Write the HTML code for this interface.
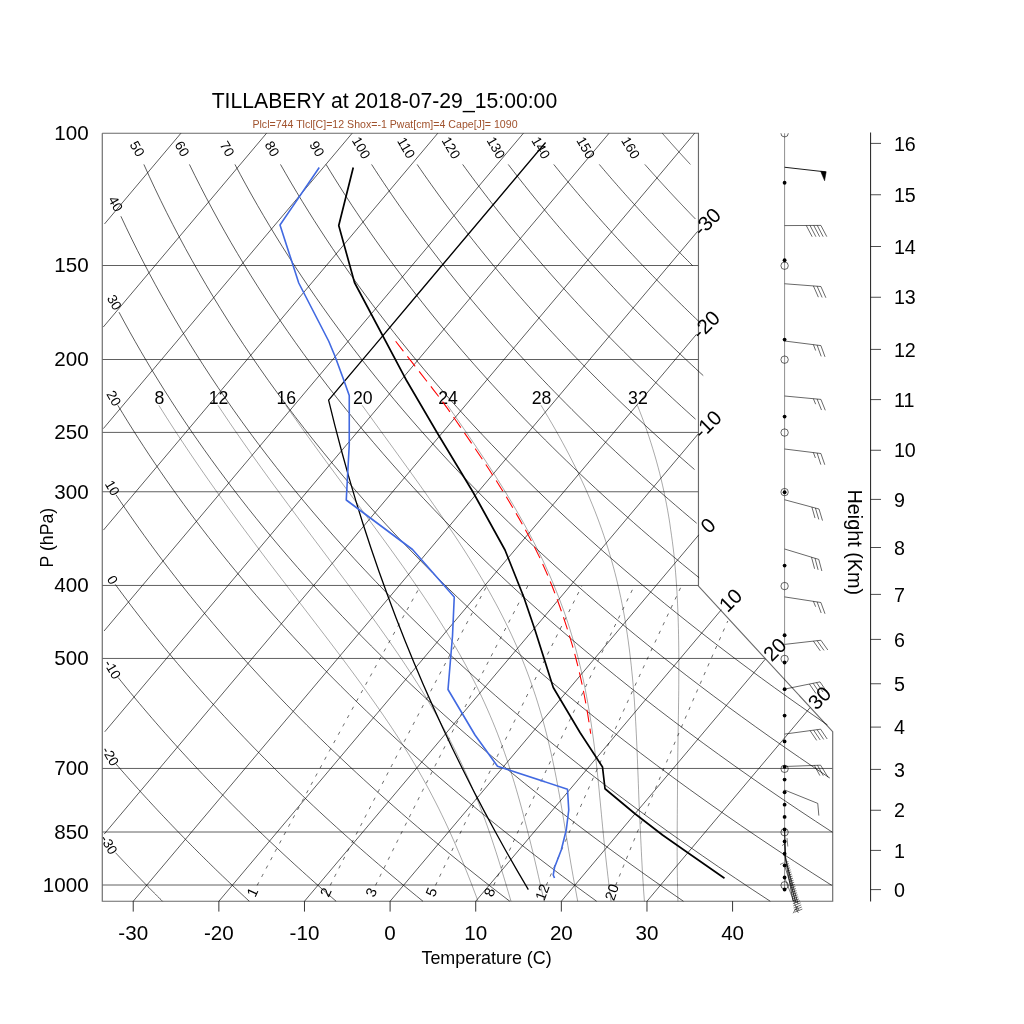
<!DOCTYPE html>
<html><head><meta charset="utf-8"><title>Skew-T</title>
<style>html,body{margin:0;padding:0;background:#fff}svg{display:block}text{font-family:"Liberation Sans",sans-serif}</style>
</head><body>
<svg width="1024" height="1024" viewBox="0 0 1024 1024">
<rect width="1024" height="1024" fill="#fff"/>
<g opacity="0.999">
<path d="M102.28 133.28 L102.28 901.25 L832.70 901.25 L832.70 731.69 L698.46 586.10 L698.46 133.28 L102.28 133.28" fill="none" stroke="#6a6a6a" stroke-width="1.15" />
<path d="M102.28 885.00 L832.70 885.00" fill="none" stroke="#606060" stroke-width="1.0" />
<text x="88.70" y="884.30" font-size="20.6" text-anchor="end" dominant-baseline="central" fill="#000" >1000</text>
<path d="M102.28 832.00 L832.70 832.00" fill="none" stroke="#606060" stroke-width="1.0" />
<text x="88.70" y="831.30" font-size="20.6" text-anchor="end" dominant-baseline="central" fill="#000" >850</text>
<path d="M102.28 768.45 L832.70 768.45" fill="none" stroke="#606060" stroke-width="1.0" />
<text x="88.70" y="767.75" font-size="20.6" text-anchor="end" dominant-baseline="central" fill="#000" >700</text>
<path d="M102.28 658.45 L765.53 658.45" fill="none" stroke="#606060" stroke-width="1.0" />
<text x="88.70" y="657.75" font-size="20.6" text-anchor="end" dominant-baseline="central" fill="#000" >500</text>
<path d="M102.28 585.45 L698.46 585.45" fill="none" stroke="#606060" stroke-width="1.0" />
<text x="88.70" y="584.75" font-size="20.6" text-anchor="end" dominant-baseline="central" fill="#000" >400</text>
<path d="M102.28 491.75 L698.46 491.75" fill="none" stroke="#606060" stroke-width="1.0" />
<text x="88.70" y="491.05" font-size="20.6" text-anchor="end" dominant-baseline="central" fill="#000" >300</text>
<path d="M102.28 432.40 L698.46 432.40" fill="none" stroke="#606060" stroke-width="1.0" />
<text x="88.70" y="431.70" font-size="20.6" text-anchor="end" dominant-baseline="central" fill="#000" >250</text>
<path d="M102.28 359.50 L698.46 359.50" fill="none" stroke="#606060" stroke-width="1.0" />
<text x="88.70" y="358.80" font-size="20.6" text-anchor="end" dominant-baseline="central" fill="#000" >200</text>
<path d="M102.28 265.50 L698.46 265.50" fill="none" stroke="#606060" stroke-width="1.0" />
<text x="88.70" y="264.80" font-size="20.6" text-anchor="end" dominant-baseline="central" fill="#000" >150</text>
<text x="88.70" y="132.58" font-size="20.6" text-anchor="end" dominant-baseline="central" fill="#000" >100</text>
<path d="M104.51 223.96 L180.90 133.28" fill="none" stroke="#000" stroke-width="0.65" />
<path d="M103.26 327.07 L266.53 133.28" fill="none" stroke="#000" stroke-width="0.65" />
<path d="M103.34 428.61 L352.15 133.28" fill="none" stroke="#000" stroke-width="0.65" />
<path d="M103.46 530.08 L437.77 133.28" fill="none" stroke="#000" stroke-width="0.65" />
<path d="M104.07 630.99 L523.39 133.28" fill="none" stroke="#000" stroke-width="0.65" />
<path d="M104.74 731.81 L609.02 133.28" fill="none" stroke="#000" stroke-width="0.65" />
<path d="M104.14 834.15 L694.64 133.28" fill="none" stroke="#000" stroke-width="0.65" />
<path d="M133.23 901.25 L697.68 231.30" fill="none" stroke="#000" stroke-width="0.65" />
<text x="706.58" y="221.50" font-size="20.5" text-anchor="middle" dominant-baseline="central" fill="#000" transform="rotate(-45.0 706.58 221.50)" >-30</text>
<path d="M218.86 901.25 L696.60 334.21" fill="none" stroke="#000" stroke-width="0.65" />
<text x="705.50" y="324.41" font-size="20.5" text-anchor="middle" dominant-baseline="central" fill="#000" transform="rotate(-45.0 705.50 324.41)" >-20</text>
<path d="M304.48 901.25 L698.27 433.85" fill="none" stroke="#000" stroke-width="0.65" />
<text x="707.17" y="424.05" font-size="20.5" text-anchor="middle" dominant-baseline="central" fill="#000" transform="rotate(-45.0 707.17 424.05)" >-10</text>
<path d="M390.10 901.25 L698.77 534.89" fill="none" stroke="#000" stroke-width="0.65" />
<text x="707.67" y="525.09" font-size="20.5" text-anchor="middle" dominant-baseline="central" fill="#000" transform="rotate(-45.0 707.67 525.09)" >0</text>
<path d="M475.72 901.25 L721.38 609.67" fill="none" stroke="#000" stroke-width="0.65" />
<text x="730.28" y="599.87" font-size="20.5" text-anchor="middle" dominant-baseline="central" fill="#000" transform="rotate(-45.0 730.28 599.87)" >10</text>
<path d="M561.34 901.25 L765.50 658.93" fill="none" stroke="#000" stroke-width="0.65" />
<text x="774.40" y="649.13" font-size="20.5" text-anchor="middle" dominant-baseline="central" fill="#000" transform="rotate(-45.0 774.40 649.13)" >20</text>
<path d="M646.97 901.25 L810.29 707.41" fill="none" stroke="#000" stroke-width="0.65" />
<text x="819.19" y="697.61" font-size="20.5" text-anchor="middle" dominant-baseline="central" fill="#000" transform="rotate(-45.0 819.19 697.61)" >30</text>
<path d="M115.61 852.80 L116.36 853.61 L117.11 854.42 L117.87 855.22 L118.62 856.03 L119.37 856.84 L120.13 857.65 L120.89 858.45 L121.65 859.26 L122.41 860.07 L123.17 860.88 L123.93 861.68 L124.69 862.49 L125.45 863.30 L126.22 864.11 L126.98 864.91 L127.75 865.72 L128.51 866.53 L129.28 867.34 L130.05 868.14 L130.82 868.95 L131.59 869.76 L132.37 870.57 L133.14 871.37 L133.91 872.18 L134.69 872.99 L135.47 873.80 L136.24 874.60 L137.02 875.41 L137.80 876.22 L138.58 877.03 L139.37 877.83 L140.15 878.64 L140.93 879.45 L141.72 880.26 L142.50 881.06 L143.29 881.87 L144.08 882.68 L144.87 883.49 L145.66 884.29 L146.45 885.10 L147.24 885.91 L148.03 886.72 L148.83 887.52 L149.62 888.33 L150.42 889.14 L151.22 889.95 L152.01 890.75 L152.81 891.56 L153.61 892.37 L154.41 893.18 L155.22 893.98 L156.02 894.79 L156.83 895.60 L157.63 896.41 L158.44 897.21 L159.25 898.02 L160.05 898.83 L160.86 899.64 L161.68 900.44 L162.49 901.25" fill="none" stroke="#000" stroke-width="0.65" />
<text x="108.70" y="844.90" font-size="13.7" text-anchor="middle" dominant-baseline="central" fill="#000" transform="rotate(60.0 108.70 844.90)" >-30</text>
<path d="M116.12 764.10 L118.10 766.39 L120.09 768.67 L122.08 770.96 L124.09 773.24 L126.10 775.53 L128.12 777.82 L130.14 780.10 L132.18 782.39 L134.22 784.67 L136.27 786.96 L138.33 789.24 L140.40 791.53 L142.47 793.82 L144.56 796.10 L146.65 798.39 L148.75 800.67 L150.85 802.96 L152.97 805.25 L155.09 807.53 L157.22 809.82 L159.36 812.10 L161.51 814.39 L163.66 816.67 L165.83 818.96 L168.00 821.25 L170.18 823.53 L172.37 825.82 L174.57 828.10 L176.77 830.39 L178.98 832.68 L181.21 834.96 L183.44 837.25 L185.67 839.53 L187.92 841.82 L190.17 844.11 L192.44 846.39 L194.71 848.68 L196.99 850.96 L199.28 853.25 L201.58 855.53 L203.88 857.82 L206.19 860.11 L208.52 862.39 L210.85 864.68 L213.19 866.96 L215.53 869.25 L217.89 871.54 L220.26 873.82 L222.63 876.11 L225.01 878.39 L227.40 880.68 L229.80 882.97 L232.21 885.25 L234.63 887.54 L237.05 889.82 L239.49 892.11 L241.93 894.39 L244.38 896.68 L246.84 898.97 L249.31 901.25" fill="none" stroke="#000" stroke-width="0.65" />
<text x="110.20" y="756.40" font-size="13.7" text-anchor="middle" dominant-baseline="central" fill="#000" transform="rotate(60.0 110.20 756.40)" >-20</text>
<path d="M118.11 677.50 L121.11 681.23 L124.13 684.96 L127.17 688.69 L130.23 692.42 L133.32 696.15 L136.42 699.88 L139.54 703.60 L142.69 707.33 L145.85 711.06 L149.04 714.79 L152.24 718.52 L155.47 722.25 L158.72 725.98 L161.98 729.71 L165.27 733.44 L168.58 737.17 L171.91 740.90 L175.27 744.63 L178.64 748.35 L182.04 752.08 L185.45 755.81 L188.89 759.54 L192.35 763.27 L195.83 767.00 L199.33 770.73 L202.86 774.46 L206.40 778.19 L209.97 781.92 L213.56 785.65 L217.17 789.38 L220.81 793.11 L224.46 796.83 L228.14 800.56 L231.84 804.29 L235.57 808.02 L239.31 811.75 L243.08 815.48 L246.87 819.21 L250.68 822.94 L254.52 826.67 L258.38 830.40 L262.26 834.13 L266.17 837.86 L270.09 841.58 L274.05 845.31 L278.02 849.04 L282.02 852.77 L286.04 856.50 L290.08 860.23 L294.15 863.96 L298.24 867.69 L302.36 871.42 L306.50 875.15 L310.66 878.88 L314.84 882.61 L319.06 886.34 L323.29 890.06 L327.55 893.79 L331.83 897.52 L336.14 901.25" fill="none" stroke="#000" stroke-width="0.65" />
<text x="112.30" y="669.50" font-size="13.7" text-anchor="middle" dominant-baseline="central" fill="#000" transform="rotate(60.0 112.30 669.50)" >-10</text>
<path d="M115.28 584.40 L119.16 589.68 L123.08 594.96 L127.04 600.24 L131.03 605.52 L135.07 610.80 L139.15 616.09 L143.26 621.37 L147.41 626.65 L151.61 631.93 L155.84 637.21 L160.12 642.49 L164.43 647.77 L168.79 653.05 L173.18 658.33 L177.62 663.61 L182.10 668.89 L186.62 674.17 L191.18 679.46 L195.78 684.74 L200.43 690.02 L205.11 695.30 L209.84 700.58 L214.61 705.86 L219.43 711.14 L224.29 716.42 L229.19 721.70 L234.13 726.98 L239.12 732.26 L244.15 737.55 L249.23 742.83 L254.34 748.11 L259.51 753.39 L264.72 758.67 L269.97 763.95 L275.27 769.23 L280.61 774.51 L286.00 779.79 L291.43 785.07 L296.91 790.35 L302.44 795.63 L308.01 800.92 L313.63 806.20 L319.30 811.48 L325.01 816.76 L330.77 822.04 L336.58 827.32 L342.43 832.60 L348.33 837.88 L354.28 843.16 L360.28 848.44 L366.33 853.72 L372.42 859.01 L378.57 864.29 L384.76 869.57 L391.00 874.85 L397.30 880.13 L403.64 885.41 L410.03 890.69 L416.47 895.97 L422.96 901.25" fill="none" stroke="#000" stroke-width="0.65" />
<text x="112.40" y="580.00" font-size="13.7" text-anchor="middle" dominant-baseline="central" fill="#000" transform="rotate(60.0 112.40 580.00)" >0</text>
<path d="M116.12 495.00 L120.66 501.77 L125.26 508.54 L129.92 515.31 L134.65 522.08 L139.43 528.85 L144.28 535.63 L149.19 542.40 L154.16 549.17 L159.20 555.94 L164.30 562.71 L169.46 569.48 L174.69 576.25 L179.98 583.02 L185.34 589.79 L190.77 596.56 L196.26 603.33 L201.82 610.10 L207.44 616.88 L213.14 623.65 L218.90 630.42 L224.73 637.19 L230.62 643.96 L236.59 650.73 L242.62 657.50 L248.73 664.27 L254.90 671.04 L261.15 677.81 L267.47 684.58 L273.86 691.36 L280.32 698.13 L286.85 704.90 L293.46 711.67 L300.13 718.44 L306.89 725.21 L313.71 731.98 L320.61 738.75 L327.59 745.52 L334.64 752.29 L341.77 759.06 L348.97 765.83 L356.25 772.61 L363.61 779.38 L371.05 786.15 L378.56 792.92 L386.15 799.69 L393.82 806.46 L401.57 813.23 L409.40 820.00 L417.32 826.77 L425.31 833.54 L433.38 840.31 L441.54 847.09 L449.77 853.86 L458.10 860.63 L466.50 867.40 L474.99 874.17 L483.56 880.94 L492.22 887.71 L500.96 894.48 L509.79 901.25" fill="none" stroke="#000" stroke-width="0.65" />
<text x="112.20" y="488.10" font-size="13.7" text-anchor="middle" dominant-baseline="central" fill="#000" transform="rotate(60.0 112.20 488.10)" >10</text>
<path d="M117.81 405.30 L122.83 413.57 L127.92 421.83 L133.11 430.10 L138.39 438.36 L143.75 446.63 L149.20 454.90 L154.75 463.16 L160.38 471.43 L166.11 479.69 L171.93 487.96 L177.84 496.22 L183.85 504.49 L189.94 512.76 L196.14 521.02 L202.43 529.29 L208.81 537.55 L215.30 545.82 L221.88 554.09 L228.56 562.35 L235.33 570.62 L242.21 578.88 L249.19 587.15 L256.27 595.41 L263.45 603.68 L270.74 611.95 L278.13 620.21 L285.62 628.48 L293.22 636.74 L300.92 645.01 L308.73 653.28 L316.65 661.54 L324.67 669.81 L332.80 678.07 L341.05 686.34 L349.40 694.61 L357.87 702.87 L366.45 711.14 L375.14 719.40 L383.94 727.67 L392.86 735.93 L401.89 744.20 L411.04 752.47 L420.31 760.73 L429.70 769.00 L439.20 777.26 L448.82 785.53 L458.57 793.80 L468.43 802.06 L478.42 810.33 L488.53 818.59 L498.77 826.86 L509.13 835.13 L519.61 843.39 L530.23 851.66 L540.97 859.92 L551.83 868.19 L562.83 876.45 L573.96 884.72 L585.22 892.99 L596.62 901.25" fill="none" stroke="#000" stroke-width="0.65" />
<text x="113.70" y="398.40" font-size="13.7" text-anchor="middle" dominant-baseline="central" fill="#000" transform="rotate(60.0 113.70 398.40)" >20</text>
<path d="M119.01 312.20 L124.31 322.02 L129.72 331.84 L135.25 341.65 L140.91 351.47 L146.68 361.29 L152.57 371.11 L158.58 380.92 L164.72 390.74 L170.98 400.56 L177.37 410.38 L183.88 420.19 L190.53 430.01 L197.30 439.83 L204.20 449.65 L211.23 459.46 L218.39 469.28 L225.69 479.10 L233.12 488.92 L240.69 498.73 L248.39 508.55 L256.23 518.37 L264.21 528.19 L272.33 538.00 L280.60 547.82 L289.00 557.64 L297.55 567.46 L306.24 577.27 L315.09 587.09 L324.07 596.91 L333.21 606.73 L342.50 616.54 L351.94 626.36 L361.53 636.18 L371.28 646.00 L381.18 655.81 L391.24 665.63 L401.46 675.45 L411.83 685.27 L422.37 695.08 L433.07 704.90 L443.94 714.72 L454.97 724.54 L466.16 734.35 L477.53 744.17 L489.06 753.99 L500.77 763.81 L512.64 773.62 L524.70 783.44 L536.92 793.26 L549.33 803.08 L561.91 812.89 L574.67 822.71 L587.61 832.53 L600.74 842.35 L614.05 852.16 L627.55 861.98 L641.24 871.80 L655.11 881.62 L669.18 891.43 L683.44 901.25" fill="none" stroke="#000" stroke-width="0.65" />
<text x="114.10" y="302.50" font-size="13.7" text-anchor="middle" dominant-baseline="central" fill="#000" transform="rotate(60.0 114.10 302.50)" >30</text>
<path d="M120.88 216.25 L126.25 227.67 L131.78 239.08 L137.46 250.50 L143.29 261.92 L149.28 273.33 L155.42 284.75 L161.73 296.17 L168.19 307.58 L174.82 319.00 L181.60 330.42 L188.56 341.83 L195.68 353.25 L202.96 364.67 L210.42 376.08 L218.05 387.50 L225.85 398.92 L233.83 410.33 L241.98 421.75 L250.32 433.17 L258.83 444.58 L267.52 456.00 L276.40 467.42 L285.47 478.83 L294.72 490.25 L304.16 501.67 L313.80 513.08 L323.63 524.50 L333.65 535.92 L343.87 547.33 L354.29 558.75 L364.91 570.17 L375.73 581.58 L386.76 593.00 L398.00 604.42 L409.45 615.83 L421.11 627.25 L432.98 638.67 L445.07 650.08 L457.37 661.50 L469.90 672.92 L482.65 684.33 L495.62 695.75 L508.82 707.17 L522.25 718.58 L535.91 730.00 L549.81 741.42 L563.94 752.83 L578.31 764.25 L592.92 775.67 L607.78 787.09 L622.88 798.50 L638.23 809.92 L653.83 821.34 L669.68 832.75 L685.79 844.17 L702.16 855.59 L718.79 867.00 L735.68 878.42 L752.84 889.84 L770.27 901.25" fill="none" stroke="#000" stroke-width="0.65" />
<text x="115.50" y="203.90" font-size="13.7" text-anchor="middle" dominant-baseline="central" fill="#000" transform="rotate(60.0 115.50 203.90)" >40</text>
<path d="M143.86 164.41 L149.31 176.43 L154.91 188.44 L160.69 200.46 L166.63 212.47 L172.74 224.49 L179.03 236.50 L185.48 248.52 L192.12 260.53 L198.93 272.55 L205.92 284.56 L213.09 296.58 L220.44 308.59 L227.98 320.61 L235.71 332.62 L243.62 344.64 L251.72 356.65 L260.02 368.67 L268.51 380.68 L277.20 392.70 L286.09 404.71 L295.18 416.73 L304.47 428.74 L313.97 440.76 L323.68 452.77 L333.59 464.79 L343.72 476.80 L354.06 488.82 L364.62 500.83 L375.39 512.85 L386.39 524.86 L397.61 536.88 L409.06 548.89 L420.73 560.91 L432.64 572.93 L444.77 584.94 L457.15 596.96 L469.76 608.97 L482.61 620.99 L495.71 633.00 L509.05 645.02 L522.64 657.03 L536.48 669.05 L550.57 681.06 L564.92 693.08 L579.53 705.09 L594.39 717.11 L609.53 729.12 L624.93 741.14 L640.60 753.15 L656.54 765.17 L672.76 777.18 L689.26 789.20 L706.04 801.21 L723.11 813.23 L740.46 825.24 L758.10 837.26 L776.04 849.27 L794.27 861.29 L812.80 873.30 L831.64 885.32" fill="none" stroke="#000" stroke-width="0.65" />
<text x="137.07" y="148.90" font-size="13.7" text-anchor="middle" dominant-baseline="central" fill="#000" transform="rotate(60.0 137.07 148.90)" >50</text>
<path d="M189.41 164.41 L194.89 175.54 L200.52 186.67 L206.29 197.80 L212.22 208.93 L218.29 220.06 L224.52 231.20 L230.89 242.33 L237.43 253.46 L244.11 264.59 L250.96 275.72 L257.96 286.85 L265.13 297.98 L272.46 309.11 L279.95 320.24 L287.60 331.37 L295.43 342.50 L303.42 353.63 L311.58 364.76 L319.91 375.89 L328.42 387.02 L337.10 398.15 L345.96 409.28 L354.99 420.41 L364.21 431.54 L373.61 442.67 L383.20 453.80 L392.96 464.93 L402.92 476.06 L413.07 487.19 L423.40 498.33 L433.93 509.46 L444.66 520.59 L455.58 531.72 L466.70 542.85 L478.03 553.98 L489.55 565.11 L501.28 576.24 L513.22 587.37 L525.36 598.50 L537.72 609.63 L550.28 620.76 L563.07 631.89 L576.07 643.02 L589.29 654.15 L602.73 665.28 L616.39 676.41 L630.28 687.54 L644.40 698.67 L658.75 709.80 L673.33 720.93 L688.15 732.06 L703.20 743.19 L718.49 754.32 L734.02 765.46 L749.80 776.59 L765.82 787.72 L782.09 798.85 L798.62 809.98 L815.40 821.11 L832.43 832.24" fill="none" stroke="#000" stroke-width="0.65" />
<text x="182.00" y="148.90" font-size="13.7" text-anchor="middle" dominant-baseline="central" fill="#000" transform="rotate(60.0 182.00 148.90)" >60</text>
<path d="M234.95 164.41 L240.39 174.64 L245.96 184.87 L251.66 195.09 L257.48 205.32 L263.44 215.55 L269.52 225.77 L275.74 236.00 L282.09 246.23 L288.58 256.45 L295.20 266.68 L301.96 276.91 L308.86 287.14 L315.90 297.36 L323.07 307.59 L330.39 317.82 L337.86 328.04 L345.47 338.27 L353.22 348.50 L361.12 358.72 L369.17 368.95 L377.37 379.18 L385.72 389.40 L394.23 399.63 L402.88 409.86 L411.70 420.09 L420.67 430.31 L429.80 440.54 L439.08 450.77 L448.53 460.99 L458.14 471.22 L467.92 481.45 L477.86 491.67 L487.97 501.90 L498.24 512.13 L508.69 522.35 L519.31 532.58 L530.10 542.81 L541.06 553.03 L552.21 563.26 L563.53 573.49 L575.02 583.72 L586.70 593.94 L598.57 604.17 L610.61 614.40 L622.84 624.62 L635.26 634.85 L647.87 645.08 L660.67 655.30 L673.66 665.53 L686.85 675.76 L700.23 685.98 L713.82 696.21 L727.60 706.44 L741.58 716.66 L755.76 726.89 L770.15 737.12 L784.75 747.35 L799.56 757.57 L814.57 767.80 L829.80 778.03" fill="none" stroke="#000" stroke-width="0.65" />
<text x="226.93" y="148.90" font-size="13.7" text-anchor="middle" dominant-baseline="central" fill="#000" transform="rotate(60.0 226.93 148.90)" >70</text>
<path d="M280.49 164.41 L285.83 173.75 L291.28 183.10 L296.84 192.44 L302.51 201.78 L308.29 211.12 L314.18 220.47 L320.19 229.81 L326.31 239.15 L332.54 248.49 L338.89 257.84 L345.36 267.18 L351.94 276.52 L358.65 285.86 L365.47 295.20 L372.41 304.55 L379.48 313.89 L386.67 323.23 L393.98 332.57 L401.42 341.92 L408.98 351.26 L416.67 360.60 L424.48 369.94 L432.43 379.28 L440.51 388.63 L448.71 397.97 L457.05 407.31 L465.52 416.65 L474.13 426.00 L482.87 435.34 L491.75 444.68 L500.77 454.02 L509.92 463.36 L519.21 472.71 L528.65 482.05 L538.23 491.39 L547.95 500.73 L557.81 510.08 L567.82 519.42 L577.98 528.76 L588.29 538.10 L598.74 547.44 L609.35 556.79 L620.11 566.13 L631.02 575.47 L642.08 584.81 L653.30 594.16 L664.68 603.50 L676.21 612.84 L687.91 622.18 L699.76 631.52 L711.78 640.87 L723.96 650.21 L736.31 659.55 L748.82 668.89 L761.50 678.24 L774.35 687.58 L787.36 696.92 L800.55 706.26 L813.92 715.60 L827.45 724.95" fill="none" stroke="#000" stroke-width="0.65" />
<text x="271.86" y="148.90" font-size="13.7" text-anchor="middle" dominant-baseline="central" fill="#000" transform="rotate(60.0 271.86 148.90)" >80</text>
<path d="M326.04 164.41 L330.24 171.30 L334.50 178.19 L338.83 185.08 L343.21 191.97 L347.66 198.86 L352.17 205.75 L356.75 212.64 L361.38 219.53 L366.08 226.42 L370.84 233.31 L375.67 240.20 L380.56 247.09 L385.51 253.98 L390.53 260.87 L395.62 267.76 L400.77 274.64 L405.99 281.53 L411.27 288.42 L416.62 295.31 L422.04 302.20 L427.53 309.09 L433.09 315.98 L438.71 322.87 L444.40 329.76 L450.17 336.65 L456.00 343.54 L461.90 350.43 L467.88 357.32 L473.92 364.21 L480.04 371.10 L486.23 377.99 L492.49 384.88 L498.83 391.77 L505.23 398.66 L511.72 405.55 L518.27 412.44 L524.90 419.33 L531.61 426.21 L538.39 433.10 L545.25 439.99 L552.19 446.88 L559.20 453.77 L566.29 460.66 L573.46 467.55 L580.70 474.44 L588.03 481.33 L595.43 488.22 L602.92 495.11 L610.48 502.00 L618.13 508.89 L625.86 515.78 L633.67 522.67 L641.56 529.56 L649.53 536.45 L657.59 543.34 L665.73 550.23 L673.96 557.12 L682.27 564.01 L690.67 570.89 L699.15 577.78" fill="none" stroke="#000" stroke-width="0.65" />
<text x="316.79" y="148.90" font-size="13.7" text-anchor="middle" dominant-baseline="central" fill="#000" transform="rotate(60.0 316.79 148.90)" >90</text>
<path d="M371.58 164.41 L375.46 170.39 L379.39 176.37 L383.37 182.35 L387.40 188.33 L391.47 194.31 L395.59 200.29 L399.76 206.27 L403.98 212.25 L408.25 218.23 L412.56 224.21 L416.93 230.19 L421.34 236.17 L425.80 242.15 L430.32 248.14 L434.88 254.12 L439.49 260.10 L444.16 266.08 L448.87 272.06 L453.64 278.04 L458.46 284.02 L463.33 290.00 L468.25 295.98 L473.22 301.96 L478.25 307.94 L483.33 313.92 L488.46 319.90 L493.65 325.88 L498.89 331.86 L504.18 337.84 L509.53 343.82 L514.93 349.80 L520.39 355.78 L525.90 361.76 L531.47 367.74 L537.09 373.72 L542.77 379.70 L548.51 385.68 L554.30 391.66 L560.15 397.64 L566.05 403.62 L572.02 409.60 L578.04 415.58 L584.12 421.56 L590.26 427.54 L596.45 433.52 L602.71 439.50 L609.02 445.48 L615.40 451.46 L621.83 457.44 L628.33 463.42 L634.88 469.40 L641.50 475.38 L648.18 481.36 L654.91 487.34 L661.71 493.32 L668.58 499.30 L675.50 505.28 L682.49 511.26 L689.54 517.24 L696.66 523.22" fill="none" stroke="#000" stroke-width="0.65" />
<text x="361.09" y="147.90" font-size="13.7" text-anchor="middle" dominant-baseline="central" fill="#000" transform="rotate(60.0 361.09 147.90)" >100</text>
<path d="M417.12 164.41 L420.63 169.50 L424.16 174.58 L427.74 179.67 L431.35 184.76 L434.99 189.84 L438.67 194.93 L442.38 200.01 L446.14 205.10 L449.92 210.18 L453.74 215.27 L457.60 220.36 L461.50 225.44 L465.43 230.53 L469.40 235.61 L473.40 240.70 L477.44 245.79 L481.52 250.87 L485.64 255.96 L489.79 261.04 L493.98 266.13 L498.21 271.21 L502.48 276.30 L506.79 281.39 L511.13 286.47 L515.51 291.56 L519.93 296.64 L524.39 301.73 L528.89 306.82 L533.43 311.90 L538.01 316.99 L542.63 322.07 L547.28 327.16 L551.98 332.24 L556.72 337.33 L561.49 342.42 L566.31 347.50 L571.17 352.59 L576.07 357.67 L581.01 362.76 L585.99 367.85 L591.01 372.93 L596.08 378.02 L601.18 383.10 L606.33 388.19 L611.52 393.27 L616.75 398.36 L622.03 403.45 L627.35 408.53 L632.71 413.62 L638.11 418.70 L643.56 423.79 L649.05 428.88 L654.58 433.96 L660.16 439.05 L665.78 444.13 L671.44 449.22 L677.15 454.30 L682.91 459.39 L688.71 464.48 L694.55 469.56" fill="none" stroke="#000" stroke-width="0.65" />
<text x="405.98" y="147.90" font-size="13.7" text-anchor="middle" dominant-baseline="central" fill="#000" transform="rotate(60.0 405.98 147.90)" >110</text>
<path d="M462.67 164.41 L465.76 168.66 L468.88 172.91 L472.02 177.15 L475.19 181.40 L478.38 185.65 L481.60 189.89 L484.84 194.14 L488.11 198.39 L491.41 202.63 L494.73 206.88 L498.07 211.13 L501.44 215.37 L504.84 219.62 L508.26 223.87 L511.71 228.11 L515.19 232.36 L518.69 236.61 L522.22 240.85 L525.77 245.10 L529.36 249.35 L532.96 253.59 L536.60 257.84 L540.26 262.09 L543.95 266.33 L547.67 270.58 L551.41 274.83 L555.18 279.07 L558.98 283.32 L562.80 287.57 L566.65 291.81 L570.53 296.06 L574.44 300.31 L578.38 304.55 L582.34 308.80 L586.33 313.05 L590.35 317.29 L594.40 321.54 L598.48 325.79 L602.59 330.03 L606.72 334.28 L610.88 338.53 L615.08 342.77 L619.30 347.02 L623.55 351.27 L627.82 355.51 L632.13 359.76 L636.47 364.01 L640.84 368.25 L645.23 372.50 L649.66 376.75 L654.12 380.99 L658.60 385.24 L663.12 389.49 L667.67 393.74 L672.24 397.98 L676.85 402.23 L681.49 406.48 L686.16 410.72 L690.85 414.97 L695.58 419.22" fill="none" stroke="#000" stroke-width="0.65" />
<text x="450.87" y="147.90" font-size="13.7" text-anchor="middle" dominant-baseline="central" fill="#000" transform="rotate(60.0 450.87 147.90)" >120</text>
<path d="M508.21 164.41 L510.91 167.93 L513.63 171.45 L516.37 174.97 L519.12 178.49 L521.90 182.01 L524.69 185.53 L527.50 189.05 L530.32 192.57 L533.17 196.09 L536.03 199.61 L538.91 203.13 L541.81 206.65 L544.72 210.17 L547.66 213.69 L550.61 217.21 L553.58 220.73 L556.57 224.25 L559.58 227.77 L562.60 231.29 L565.65 234.81 L568.71 238.33 L571.79 241.85 L574.89 245.37 L578.01 248.89 L581.15 252.41 L584.30 255.93 L587.48 259.45 L590.67 262.97 L593.89 266.49 L597.12 270.01 L600.37 273.53 L603.64 277.05 L606.93 280.57 L610.24 284.09 L613.57 287.61 L616.92 291.13 L620.28 294.65 L623.67 298.17 L627.08 301.69 L630.50 305.21 L633.95 308.73 L637.42 312.25 L640.90 315.77 L644.41 319.29 L647.93 322.81 L651.48 326.33 L655.05 329.85 L658.63 333.37 L662.24 336.89 L665.86 340.41 L669.51 343.92 L673.18 347.44 L676.87 350.96 L680.58 354.48 L684.30 358.00 L688.05 361.52 L691.82 365.04 L695.61 368.56 L699.43 372.08 L703.26 375.60" fill="none" stroke="#000" stroke-width="0.65" />
<text x="495.76" y="147.90" font-size="13.7" text-anchor="middle" dominant-baseline="central" fill="#000" transform="rotate(60.0 495.76 147.90)" >130</text>
<path d="M553.75 164.41 L555.89 167.06 L558.04 169.71 L560.20 172.36 L562.37 175.01 L564.55 177.66 L566.74 180.32 L568.94 182.97 L571.15 185.62 L573.37 188.27 L575.60 190.92 L577.85 193.57 L580.10 196.22 L582.36 198.87 L584.63 201.52 L586.92 204.17 L589.21 206.82 L591.52 209.47 L593.83 212.12 L596.16 214.77 L598.49 217.42 L600.84 220.07 L603.20 222.72 L605.57 225.37 L607.94 228.02 L610.33 230.67 L612.73 233.32 L615.15 235.97 L617.57 238.62 L620.00 241.27 L622.44 243.93 L624.90 246.58 L627.36 249.23 L629.84 251.88 L632.33 254.53 L634.82 257.18 L637.33 259.83 L639.85 262.48 L642.39 265.13 L644.93 267.78 L647.48 270.43 L650.05 273.08 L652.62 275.73 L655.21 278.38 L657.81 281.03 L660.41 283.68 L663.04 286.33 L665.67 288.98 L668.31 291.63 L670.96 294.28 L673.63 296.93 L676.31 299.58 L679.00 302.23 L681.70 304.88 L684.41 307.54 L687.13 310.19 L689.86 312.84 L692.61 315.49 L695.37 318.14 L698.14 320.79 L700.92 323.44" fill="none" stroke="#000" stroke-width="0.65" />
<text x="540.65" y="147.90" font-size="13.7" text-anchor="middle" dominant-baseline="central" fill="#000" transform="rotate(60.0 540.65 147.90)" >140</text>
<path d="M599.30 164.41 L600.72 166.10 L602.16 167.79 L603.60 169.48 L605.04 171.17 L606.48 172.85 L607.93 174.54 L609.39 176.23 L610.85 177.92 L612.31 179.61 L613.77 181.30 L615.25 182.98 L616.72 184.67 L618.20 186.36 L619.69 188.05 L621.17 189.74 L622.67 191.43 L624.16 193.11 L625.67 194.80 L627.17 196.49 L628.68 198.18 L630.20 199.87 L631.71 201.56 L633.24 203.24 L634.76 204.93 L636.30 206.62 L637.83 208.31 L639.37 210.00 L640.92 211.68 L642.47 213.37 L644.02 215.06 L645.58 216.75 L647.14 218.44 L648.71 220.13 L650.28 221.81 L651.86 223.50 L653.44 225.19 L655.02 226.88 L656.61 228.57 L658.20 230.26 L659.80 231.94 L661.40 233.63 L663.01 235.32 L664.62 237.01 L666.24 238.70 L667.86 240.39 L669.48 242.07 L671.11 243.76 L672.75 245.45 L674.39 247.14 L676.03 248.83 L677.68 250.52 L679.33 252.20 L680.99 253.89 L682.65 255.58 L684.31 257.27 L685.98 258.96 L687.66 260.65 L689.34 262.33 L691.02 264.02 L692.71 265.71" fill="none" stroke="#000" stroke-width="0.65" />
<text x="585.54" y="147.90" font-size="13.7" text-anchor="middle" dominant-baseline="central" fill="#000" transform="rotate(60.0 585.54 147.90)" >150</text>
<path d="M644.84 164.41 L645.64 165.32 L646.45 166.23 L647.26 167.14 L648.07 168.05 L648.88 168.96 L649.69 169.87 L650.50 170.78 L651.32 171.69 L652.13 172.60 L652.95 173.51 L653.77 174.42 L654.59 175.32 L655.41 176.23 L656.23 177.14 L657.05 178.05 L657.88 178.96 L658.70 179.87 L659.53 180.78 L660.36 181.69 L661.19 182.60 L662.02 183.51 L662.85 184.42 L663.68 185.33 L664.52 186.24 L665.35 187.15 L666.19 188.06 L667.03 188.96 L667.87 189.87 L668.71 190.78 L669.55 191.69 L670.39 192.60 L671.24 193.51 L672.08 194.42 L672.93 195.33 L673.78 196.24 L674.63 197.15 L675.48 198.06 L676.33 198.97 L677.18 199.88 L678.04 200.79 L678.90 201.70 L679.75 202.60 L680.61 203.51 L681.47 204.42 L682.33 205.33 L683.20 206.24 L684.06 207.15 L684.93 208.06 L685.79 208.97 L686.66 209.88 L687.53 210.79 L688.40 211.70 L689.27 212.61 L690.14 213.52 L691.02 214.43 L691.89 215.34 L692.77 216.25 L693.65 217.15 L694.53 218.06 L695.41 218.97" fill="none" stroke="#000" stroke-width="0.65" />
<text x="630.43" y="147.90" font-size="13.7" text-anchor="middle" dominant-baseline="central" fill="#000" transform="rotate(60.0 630.43 147.90)" >160</text>
<path d="M662.34 133.28 L662.79 133.80 L663.25 134.32 L663.70 134.84 L664.16 135.36 L664.62 135.88 L665.08 136.40 L665.53 136.92 L665.99 137.43 L666.45 137.95 L666.91 138.47 L667.37 138.99 L667.83 139.51 L668.29 140.03 L668.75 140.55 L669.21 141.07 L669.67 141.58 L670.13 142.10 L670.60 142.62 L671.06 143.14 L671.52 143.66 L671.99 144.18 L672.45 144.70 L672.91 145.22 L673.38 145.74 L673.84 146.25 L674.31 146.77 L674.77 147.29 L675.24 147.81 L675.71 148.33 L676.18 148.85 L676.64 149.37 L677.11 149.89 L677.58 150.40 L678.05 150.92 L678.52 151.44 L678.99 151.96 L679.46 152.48 L679.93 153.00 L680.40 153.52 L680.87 154.04 L681.34 154.56 L681.81 155.07 L682.29 155.59 L682.76 156.11 L683.23 156.63 L683.71 157.15 L684.18 157.67 L684.66 158.19 L685.13 158.71 L685.61 159.22 L686.08 159.74 L686.56 160.26 L687.03 160.78 L687.51 161.30 L687.99 161.82 L688.47 162.34 L688.95 162.86 L689.42 163.37 L689.90 163.89 L690.38 164.41" fill="none" stroke="#000" stroke-width="0.65" />
<path d="M637.36 405.32 L639.83 411.51 L642.21 417.71 L644.50 423.91 L646.71 430.11 L648.83 436.31 L650.84 442.51 L652.77 448.71 L654.65 454.91 L656.43 461.11 L658.11 467.31 L659.72 473.51 L661.24 479.71 L662.69 485.90 L664.05 492.10 L665.34 498.30 L666.56 504.50 L667.70 510.70 L668.77 516.90 L669.78 523.10 L670.63 529.30 L671.54 535.50 L672.39 541.70 L673.18 547.90 L673.91 554.10 L674.48 560.30 L675.06 566.49 L675.60 572.69 L676.08 578.89 L676.51 585.09 L676.91 591.29 L677.25 597.49 L677.56 603.69 L677.83 609.89 L678.06 616.09 L678.26 622.29 L678.42 628.49 L678.56 634.69 L678.66 640.89 L678.74 647.08 L678.80 653.28 L678.83 659.48 L678.84 665.68 L678.83 671.88 L678.81 678.08 L678.77 684.28 L678.74 690.48 L678.67 696.68 L678.58 702.88 L678.49 709.08 L678.40 715.28 L678.30 721.48 L678.20 727.67 L678.10 733.87 L678.01 740.07 L677.91 746.27 L677.82 752.47 L677.73 758.67 L677.67 764.87 L677.64 771.07 L677.60 777.27 L677.52 783.47 L677.48 789.67 L677.44 795.87 L677.39 802.06 L677.34 808.26 L677.30 814.46 L677.26 820.66 L677.22 826.86 L677.19 833.06 L677.17 839.26 L677.17 845.46 L677.17 851.66 L677.20 857.86 L677.21 864.06 L677.28 870.26 L677.37 876.46 L677.47 882.65 L677.59 888.85 L677.74 895.05 L677.93 901.25" fill="none" stroke="#000" stroke-width="0.35" />
<text x="637.96" y="398.40" font-size="17.7" text-anchor="middle" dominant-baseline="central" fill="#000" >32</text>
<path d="M541.04 405.32 L544.79 411.51 L548.47 417.71 L552.10 423.91 L555.66 430.11 L559.14 436.31 L562.56 442.51 L565.90 448.71 L569.16 454.91 L572.34 461.11 L575.45 467.31 L578.46 473.51 L581.39 479.71 L584.24 485.90 L587.01 492.10 L589.68 498.30 L592.26 504.50 L594.75 510.70 L597.15 516.90 L599.46 523.10 L601.68 529.30 L603.82 535.50 L605.87 541.70 L607.84 547.90 L609.73 554.10 L611.53 560.30 L613.26 566.49 L614.91 572.69 L616.48 578.89 L617.97 585.09 L619.40 591.29 L620.75 597.49 L622.03 603.69 L623.24 609.89 L624.38 616.09 L625.45 622.29 L626.39 628.49 L627.34 634.69 L628.23 640.89 L629.06 647.08 L629.84 653.28 L630.57 659.48 L631.26 665.68 L631.89 671.88 L632.53 678.08 L633.08 684.28 L633.59 690.48 L634.07 696.68 L634.51 702.88 L634.92 709.08 L635.30 715.28 L635.66 721.48 L635.99 727.67 L636.30 733.87 L636.60 740.07 L636.88 746.27 L637.14 752.47 L637.39 758.67 L637.64 764.87 L637.87 771.07 L638.11 777.27 L638.34 783.47 L638.57 789.67 L638.78 795.87 L639.03 802.06 L639.29 808.26 L639.59 814.46 L639.89 820.66 L640.18 826.86 L640.48 833.06 L640.77 839.26 L641.07 845.46 L641.37 851.66 L641.68 857.86 L642.01 864.06 L642.34 870.26 L642.71 876.46 L643.10 882.65 L643.50 888.85 L643.94 895.05 L644.41 901.25" fill="none" stroke="#000" stroke-width="0.35" />
<text x="541.64" y="398.40" font-size="17.7" text-anchor="middle" dominant-baseline="central" fill="#000" >28</text>
<path d="M447.48 405.32 L451.84 411.51 L456.17 417.71 L460.49 423.91 L464.77 430.11 L469.03 436.31 L473.26 442.51 L477.44 448.71 L481.59 454.91 L485.70 461.11 L489.76 467.31 L493.77 473.51 L497.72 479.71 L501.62 485.90 L505.46 492.10 L509.23 498.30 L512.93 504.50 L516.54 510.70 L520.11 516.90 L523.61 523.10 L527.02 529.30 L530.35 535.50 L533.59 541.70 L536.75 547.90 L539.82 554.10 L542.80 560.30 L545.70 566.49 L548.50 572.69 L551.21 578.89 L553.83 585.09 L556.37 591.29 L558.81 597.49 L561.16 603.69 L563.43 609.89 L565.61 616.09 L567.70 622.29 L569.72 628.49 L571.57 634.69 L573.47 640.89 L575.23 647.08 L576.91 653.28 L578.51 659.48 L580.04 665.68 L581.50 671.88 L582.89 678.08 L584.21 684.28 L585.46 690.48 L586.65 696.68 L587.78 702.88 L588.86 709.08 L589.88 715.28 L590.86 721.48 L591.78 727.67 L592.66 733.87 L593.50 740.07 L594.30 746.27 L595.06 752.47 L595.80 758.67 L596.50 764.87 L597.17 771.07 L597.83 777.27 L598.46 783.47 L599.08 789.67 L599.65 795.87 L600.26 802.06 L600.85 808.26 L601.44 814.46 L602.03 820.66 L602.62 826.86 L603.22 833.06 L603.83 839.26 L604.46 845.46 L605.12 851.66 L605.82 857.86 L606.52 864.06 L607.22 870.26 L607.95 876.46 L608.70 882.65 L609.46 888.85 L610.24 895.05 L611.06 901.25" fill="none" stroke="#000" stroke-width="0.35" />
<text x="448.08" y="398.40" font-size="17.7" text-anchor="middle" dominant-baseline="central" fill="#000" >24</text>
<path d="M362.13 405.32 L366.61 411.51 L371.10 417.71 L375.59 423.91 L380.10 430.11 L384.60 436.31 L389.10 442.51 L393.61 448.71 L398.10 454.91 L402.59 461.11 L407.07 467.31 L411.53 473.51 L415.98 479.71 L420.41 485.90 L424.81 492.10 L429.18 498.30 L433.53 504.50 L437.84 510.70 L442.11 516.90 L446.34 523.10 L450.48 529.30 L454.63 535.50 L458.72 541.70 L462.75 547.90 L466.72 554.10 L470.63 560.30 L474.46 566.49 L478.23 572.69 L481.93 578.89 L485.54 585.09 L489.08 591.29 L492.53 597.49 L495.90 603.69 L499.19 609.89 L502.39 616.09 L505.49 622.29 L508.51 628.49 L511.44 634.69 L514.28 640.89 L517.03 647.08 L519.68 653.28 L522.25 659.48 L524.72 665.68 L527.11 671.88 L529.43 678.08 L531.62 684.28 L533.73 690.48 L535.80 696.68 L537.77 702.88 L539.66 709.08 L541.47 715.28 L543.22 721.48 L544.89 727.67 L546.49 733.87 L548.03 740.07 L549.51 746.27 L550.93 752.47 L552.30 758.67 L553.62 764.87 L554.89 771.07 L556.11 777.27 L557.30 783.47 L558.42 789.67 L559.55 795.87 L560.65 802.06 L561.72 808.26 L562.78 814.46 L563.81 820.66 L564.84 826.86 L565.85 833.06 L566.86 839.26 L567.88 845.46 L568.90 851.66 L569.94 857.86 L570.96 864.06 L572.05 870.26 L573.15 876.46 L574.28 882.65 L575.42 888.85 L576.56 895.05 L577.69 901.25" fill="none" stroke="#000" stroke-width="0.35" />
<text x="362.73" y="398.40" font-size="17.7" text-anchor="middle" dominant-baseline="central" fill="#000" >20</text>
<path d="M285.77 405.32 L290.13 411.51 L294.52 417.71 L298.93 423.91 L303.37 430.11 L307.84 436.31 L312.32 442.51 L316.82 448.71 L321.35 454.91 L325.88 461.11 L330.43 467.31 L334.99 473.51 L339.56 479.71 L344.14 485.90 L348.72 492.10 L353.30 498.30 L357.88 504.50 L362.40 510.70 L366.98 516.90 L371.54 523.10 L376.10 529.30 L380.63 535.50 L385.15 541.70 L389.65 547.90 L394.12 554.10 L398.56 560.30 L402.97 566.49 L407.34 572.69 L411.67 578.89 L415.96 585.09 L420.20 591.29 L424.38 597.49 L428.51 603.69 L432.58 609.89 L436.59 616.09 L440.52 622.29 L444.39 628.49 L448.19 634.69 L451.91 640.89 L455.55 647.08 L459.11 653.28 L462.59 659.48 L465.99 665.68 L469.30 671.88 L472.52 678.08 L475.65 684.28 L478.70 690.48 L481.66 696.68 L484.53 702.88 L487.31 709.08 L490.01 715.28 L492.62 721.48 L495.15 727.67 L497.60 733.87 L499.96 740.07 L502.25 746.27 L504.47 752.47 L506.61 758.67 L508.68 764.87 L510.69 771.07 L512.64 777.27 L514.54 783.47 L516.37 789.67 L518.16 795.87 L519.91 802.06 L521.61 808.26 L523.27 814.46 L524.90 820.66 L526.51 826.86 L528.09 833.06 L529.65 839.26 L531.19 845.46 L532.73 851.66 L534.22 857.86 L535.67 864.06 L537.08 870.26 L538.51 876.46 L539.92 882.65 L541.32 888.85 L542.74 895.05 L544.17 901.25" fill="none" stroke="#000" stroke-width="0.35" />
<text x="286.37" y="398.40" font-size="17.7" text-anchor="middle" dominant-baseline="central" fill="#000" >16</text>
<path d="M217.94 405.32 L222.08 411.51 L226.26 417.71 L230.48 423.91 L234.73 430.11 L239.02 436.31 L243.34 442.51 L247.69 448.71 L252.08 454.91 L256.49 461.11 L260.93 467.31 L265.41 473.51 L269.90 479.71 L274.42 485.90 L278.97 492.10 L283.53 498.30 L288.12 504.50 L292.72 510.70 L297.33 516.90 L301.96 523.10 L306.61 529.30 L311.26 535.50 L315.91 541.70 L320.58 547.90 L325.24 554.10 L329.90 560.30 L334.56 566.49 L339.21 572.69 L343.86 578.89 L348.49 585.09 L353.10 591.29 L357.69 597.49 L362.26 603.69 L366.81 609.89 L371.32 616.09 L375.80 622.29 L380.24 628.49 L384.64 634.69 L389.00 640.89 L393.30 647.08 L397.56 653.28 L401.76 659.48 L405.89 665.68 L409.97 671.88 L413.98 678.08 L417.92 684.28 L421.79 690.48 L425.58 696.68 L429.30 702.88 L432.94 709.08 L436.51 715.28 L439.99 721.48 L443.39 727.67 L446.71 733.87 L449.94 740.07 L453.10 746.27 L456.19 752.47 L459.20 758.67 L462.12 764.87 L464.97 771.07 L467.75 777.27 L470.46 783.47 L473.09 789.67 L475.67 795.87 L478.19 802.06 L480.65 808.26 L483.05 814.46 L485.34 820.66 L487.56 826.86 L489.73 833.06 L491.83 839.26 L493.89 845.46 L495.91 851.66 L497.88 857.86 L499.82 864.06 L501.71 870.26 L503.61 876.46 L505.48 882.65 L507.33 888.85 L509.17 895.05 L511.02 901.25" fill="none" stroke="#000" stroke-width="0.35" />
<text x="218.54" y="398.40" font-size="17.7" text-anchor="middle" dominant-baseline="central" fill="#000" >12</text>
<path d="M158.85 405.32 L162.74 411.51 L166.67 417.71 L170.65 423.91 L174.67 430.11 L178.73 436.31 L182.84 442.51 L186.98 448.71 L191.16 454.91 L195.38 461.11 L199.64 467.31 L203.93 473.51 L208.26 479.71 L212.63 485.90 L217.03 492.10 L221.47 498.30 L225.93 504.50 L230.43 510.70 L234.95 516.90 L239.51 523.10 L244.09 529.30 L248.70 535.50 L253.33 541.70 L257.98 547.90 L262.65 554.10 L267.34 560.30 L272.05 566.49 L276.77 572.69 L281.51 578.89 L286.25 585.09 L291.01 591.29 L295.77 597.49 L300.53 603.69 L305.29 609.89 L310.06 616.09 L314.81 622.29 L319.56 628.49 L324.30 634.69 L329.02 640.89 L333.73 647.08 L338.41 653.28 L343.07 659.48 L347.70 665.68 L352.30 671.88 L356.86 678.08 L361.39 684.28 L365.87 690.48 L370.31 696.68 L374.70 702.88 L379.03 709.08 L383.31 715.28 L387.54 721.48 L391.70 727.67 L395.79 733.87 L399.82 740.07 L403.77 746.27 L407.59 752.47 L411.37 758.67 L415.06 764.87 L418.67 771.07 L422.20 777.27 L425.64 783.47 L429.00 789.67 L432.28 795.87 L435.48 802.06 L438.61 808.26 L441.65 814.46 L444.63 820.66 L447.53 826.86 L450.36 833.06 L453.13 839.26 L455.84 845.46 L458.49 851.66 L461.09 857.86 L463.63 864.06 L466.11 870.26 L468.58 876.46 L471.00 882.65 L473.38 888.85 L475.72 895.05 L478.06 901.25" fill="none" stroke="#000" stroke-width="0.35" />
<text x="159.45" y="398.40" font-size="17.7" text-anchor="middle" dominant-baseline="central" fill="#000" >8</text>
<path d="M615.68 885.32 L617.69 880.33 L619.71 875.34 L621.73 870.35 L623.75 865.37 L625.78 860.38 L627.81 855.39 L629.84 850.40 L631.88 845.42 L633.93 840.43 L635.98 835.44 L638.03 830.45 L640.09 825.46 L642.15 820.48 L644.21 815.49 L646.28 810.50 L648.35 805.51 L650.43 800.53 L652.51 795.54 L654.60 790.55 L656.69 785.56 L658.78 780.57 L660.88 775.59 L662.98 770.60 L665.08 765.61 L667.19 760.62 L669.30 755.64 L671.42 750.65 L673.54 745.66 L675.67 740.67 L677.80 735.69 L679.93 730.70 L682.07 725.71 L684.21 720.72 L686.35 715.73 L688.50 710.75 L690.65 705.76 L692.81 700.77 L694.97 695.78 L697.13 690.80 L699.30 685.81 L701.47 680.82 L703.64 675.83 L705.82 670.84 L708.00 665.86 L710.19 660.87 L712.38 655.88 L714.57 650.89 L716.77 645.91 L718.97 640.92 L721.18 635.93 L723.39 630.94 L725.60 625.95 L727.82 620.97" fill="none" stroke="#000" stroke-width="0.6" stroke-dasharray="3.4 6.1" />
<text x="611.90" y="892.20" font-size="14.5" text-anchor="middle" dominant-baseline="central" fill="#000" transform="rotate(-71.0 611.90 892.20)" >20</text>
<path d="M546.30 885.32 L548.44 880.33 L550.59 875.34 L552.74 870.35 L554.89 865.37 L557.05 860.38 L559.21 855.39 L561.38 850.40 L563.55 845.42 L565.72 840.43 L567.90 835.44 L570.08 830.45 L572.26 825.46 L574.45 820.48 L576.65 815.49 L578.84 810.50 L581.04 805.51 L583.25 800.53 L585.45 795.54 L587.66 790.55 L589.88 785.56 L592.10 780.57 L594.32 775.59 L596.54 770.60 L598.77 765.61 L601.01 760.62 L603.24 755.64 L605.48 750.65 L607.73 745.66 L609.97 740.67 L612.22 735.69 L614.48 730.70 L616.74 725.71 L619.00 720.72 L621.26 715.73 L623.53 710.75 L625.81 705.76 L628.08 700.77 L630.36 695.78 L632.64 690.80 L634.93 685.81 L637.22 680.82 L639.51 675.83 L641.81 670.84 L644.11 665.86 L646.41 660.87 L648.72 655.88 L651.03 650.89 L653.34 645.91 L655.66 640.92 L657.98 635.93 L660.30 630.94 L662.63 625.95 L664.96 620.97 L667.30 615.98 L669.63 610.99 L671.97 606.00 L674.32 601.02 L676.67 596.03 L679.02 591.04 L681.37 586.05" fill="none" stroke="#000" stroke-width="0.6" stroke-dasharray="3.4 6.1" />
<text x="542.33" y="892.20" font-size="14.5" text-anchor="middle" dominant-baseline="central" fill="#000" transform="rotate(-69.7 542.33 892.20)" >12</text>
<path d="M493.72 885.32 L495.96 880.33 L498.20 875.34 L500.45 870.35 L502.70 865.37 L504.96 860.38 L507.21 855.39 L509.48 850.40 L511.74 845.42 L514.01 840.43 L516.28 835.44 L518.56 830.45 L520.84 825.46 L523.12 820.48 L525.41 815.49 L527.70 810.50 L529.99 805.51 L532.29 800.53 L534.59 795.54 L536.89 790.55 L539.20 785.56 L541.51 780.57 L543.83 775.59 L546.14 770.60 L548.47 765.61 L550.79 760.62 L553.12 755.64 L555.45 750.65 L557.78 745.66 L560.12 740.67 L562.46 735.69 L564.81 730.70 L567.15 725.71 L569.51 720.72 L571.86 715.73 L574.22 710.75 L576.58 705.76 L578.94 700.77 L581.31 695.78 L583.68 690.80 L586.06 685.81 L588.43 680.82 L590.81 675.83 L593.20 670.84 L595.58 665.86 L597.97 660.87 L600.37 655.88 L602.76 650.89 L605.16 645.91 L607.57 640.92 L609.97 635.93 L612.38 630.94 L614.79 625.95 L617.21 620.97 L619.63 615.98 L622.05 610.99 L624.47 606.00 L626.90 601.02 L629.33 596.03 L631.77 591.04 L634.20 586.05" fill="none" stroke="#000" stroke-width="0.6" stroke-dasharray="3.4 6.1" />
<text x="489.62" y="892.20" font-size="14.5" text-anchor="middle" dominant-baseline="central" fill="#000" transform="rotate(-68.8 489.62 892.20)" >8</text>
<path d="M435.53 885.32 L437.88 880.33 L440.23 875.34 L442.58 870.35 L444.94 865.37 L447.30 860.38 L449.66 855.39 L452.02 850.40 L454.39 845.42 L456.76 840.43 L459.14 835.44 L461.52 830.45 L463.90 825.46 L466.29 820.48 L468.67 815.49 L471.07 810.50 L473.46 805.51 L475.86 800.53 L478.26 795.54 L480.66 790.55 L483.07 785.56 L485.48 780.57 L487.90 775.59 L490.31 770.60 L492.73 765.61 L495.16 760.62 L497.58 755.64 L500.01 750.65 L502.44 745.66 L504.88 740.67 L507.32 735.69 L509.76 730.70 L512.20 725.71 L514.65 720.72 L517.10 715.73 L519.55 710.75 L522.01 705.76 L524.47 700.77 L526.93 695.78 L529.40 690.80 L531.87 685.81 L534.34 680.82 L536.81 675.83 L539.29 670.84 L541.77 665.86 L544.26 660.87 L546.74 655.88 L549.23 650.89 L551.72 645.91 L554.22 640.92 L556.72 635.93 L559.22 630.94 L561.72 625.95 L564.23 620.97 L566.74 615.98 L569.25 610.99 L571.77 606.00 L574.29 601.02 L576.81 596.03 L579.33 591.04 L581.86 586.05" fill="none" stroke="#000" stroke-width="0.6" stroke-dasharray="3.4 6.1" />
<text x="431.29" y="892.20" font-size="14.5" text-anchor="middle" dominant-baseline="central" fill="#000" transform="rotate(-67.8 431.29 892.20)" >5</text>
<path d="M375.55 885.32 L378.01 880.33 L380.46 875.34 L382.92 870.35 L385.38 865.37 L387.84 860.38 L390.31 855.39 L392.78 850.40 L395.25 845.42 L397.73 840.43 L400.20 835.44 L402.69 830.45 L405.17 825.46 L407.66 820.48 L410.15 815.49 L412.64 810.50 L415.14 805.51 L417.63 800.53 L420.14 795.54 L422.64 790.55 L425.15 785.56 L427.66 780.57 L430.17 775.59 L432.69 770.60 L435.21 765.61 L437.73 760.62 L440.25 755.64 L442.78 750.65 L445.31 745.66 L447.84 740.67 L450.38 735.69 L452.92 730.70 L455.46 725.71 L458.01 720.72 L460.55 715.73 L463.10 710.75 L465.65 705.76 L468.21 700.77 L470.77 695.78 L473.33 690.80 L475.89 685.81 L478.46 680.82 L481.03 675.83 L483.60 670.84 L486.17 665.86 L488.75 660.87 L491.33 655.88 L493.91 650.89 L496.50 645.91 L499.09 640.92 L501.68 635.93 L504.27 630.94 L506.87 625.95 L509.46 620.97 L512.07 615.98 L514.67 610.99 L517.28 606.00 L519.88 601.02 L522.50 596.03 L525.11 591.04 L527.73 586.05" fill="none" stroke="#000" stroke-width="0.6" stroke-dasharray="3.4 6.1" />
<text x="371.17" y="892.20" font-size="14.5" text-anchor="middle" dominant-baseline="central" fill="#000" transform="rotate(-66.8 371.17 892.20)" >3</text>
<path d="M330.25 885.32 L332.78 880.33 L335.31 875.34 L337.84 870.35 L340.38 865.37 L342.92 860.38 L345.46 855.39 L348.01 850.40 L350.56 845.42 L353.11 840.43 L355.66 835.44 L358.22 830.45 L360.78 825.46 L363.34 820.48 L365.90 815.49 L368.47 810.50 L371.04 805.51 L373.62 800.53 L376.19 795.54 L378.77 790.55 L381.35 785.56 L383.93 780.57 L386.52 775.59 L389.11 770.60 L391.70 765.61 L394.30 760.62 L396.89 755.64 L399.49 750.65 L402.09 745.66 L404.70 740.67 L407.31 735.69 L409.92 730.70 L412.53 725.71 L415.14 720.72 L417.76 715.73 L420.38 710.75 L423.01 705.76 L425.63 700.77 L428.26 695.78 L430.89 690.80 L433.52 685.81 L436.16 680.82 L438.80 675.83 L441.44 670.84 L444.08 665.86 L446.73 660.87 L449.38 655.88 L452.03 650.89 L454.68 645.91 L457.34 640.92 L459.99 635.93 L462.66 630.94 L465.32 625.95 L467.98 620.97 L470.65 615.98 L473.32 610.99 L476.00 606.00 L478.67 601.02 L481.35 596.03 L484.03 591.04 L486.71 586.05" fill="none" stroke="#000" stroke-width="0.6" stroke-dasharray="3.4 6.1" />
<text x="325.75" y="892.20" font-size="14.5" text-anchor="middle" dominant-baseline="central" fill="#000" transform="rotate(-66.1 325.75 892.20)" >2</text>
<path d="M257.19 885.32 L259.83 880.33 L262.49 875.34 L265.14 870.35 L267.80 865.37 L270.46 860.38 L273.12 855.39 L275.78 850.40 L278.45 845.42 L281.12 840.43 L283.79 835.44 L286.46 830.45 L289.14 825.46 L291.82 820.48 L294.50 815.49 L297.18 810.50 L299.87 805.51 L302.56 800.53 L305.25 795.54 L307.94 790.55 L310.63 785.56 L313.33 780.57 L316.03 775.59 L318.74 770.60 L321.44 765.61 L324.15 760.62 L326.86 755.64 L329.57 750.65 L332.28 745.66 L335.00 740.67 L337.72 735.69 L340.44 730.70 L343.16 725.71 L345.89 720.72 L348.62 715.73 L351.35 710.75 L354.08 705.76 L356.82 700.77 L359.55 695.78 L362.29 690.80 L365.03 685.81 L367.78 680.82 L370.52 675.83 L373.27 670.84 L376.02 665.86 L378.78 660.87 L381.53 655.88 L384.29 650.89 L387.05 645.91 L389.81 640.92 L392.58 635.93 L395.34 630.94 L398.11 625.95 L400.88 620.97 L403.65 615.98 L406.43 610.99 L409.21 606.00 L411.98 601.02 L414.77 596.03 L417.55 591.04 L420.34 586.05" fill="none" stroke="#000" stroke-width="0.6" stroke-dasharray="3.4 6.1" />
<text x="252.53" y="892.20" font-size="14.5" text-anchor="middle" dominant-baseline="central" fill="#000" transform="rotate(-65.0 252.53 892.20)" >1</text>
<path d="M528.34 889.62 L516.91 870.14 L505.68 850.45 L494.64 830.53 L483.79 810.37 L473.15 789.97 L462.72 769.33 L452.49 748.44 L442.48 727.29 L432.70 705.87 L423.14 684.19 L413.82 662.23 L404.73 639.98 L395.90 617.44 L387.31 594.60 L378.99 571.45 L370.93 547.99 L363.14 524.20 L355.64 500.08 L348.42 475.61 L341.51 450.79 L334.90 425.61 L328.61 400.05 L372.00 348.55 L415.39 297.04 L458.78 245.54 L502.17 194.04 L545.56 142.54" fill="none" stroke="#000" stroke-width="1.3" />
<path d="M353.25 167.50 L338.75 225.50 L354.50 282.50 L406.25 380.00 L437.00 432.50 L472.80 491.75 L505.00 550.00 L523.75 597.00 L535.00 630.00 L553.25 687.50 L580.00 732.50 L602.50 767.00 L605.00 788.75 L635.00 813.75 L662.50 835.00 L687.50 852.50 L724.50 878.25" fill="none" stroke="#000" stroke-width="1.7" stroke-linejoin="round"/>
<path d="M319.25 167.50 L280.00 225.00 L298.75 283.00 L328.75 341.25 L335.00 356.25 L343.75 380.00 L349.25 395.50 L349.25 445.00 L346.25 500.00 L412.50 549.50 L454.25 597.00 L452.50 636.00 L448.00 689.50 L475.00 735.00 L497.50 766.25 L567.50 789.25 L568.75 810.00 L566.25 830.00 L561.25 850.00 L554.50 867.50 L553.25 875.00 L554.50 878.00" fill="none" stroke="#4169e1" stroke-width="1.6" stroke-linejoin="round"/>
<path d="M395.65 341.25 L403.28 351.06 L410.92 360.88 L418.58 370.69 L426.23 380.50 L433.88 390.31 L441.49 400.12 L448.49 409.94 L455.37 419.75 L462.19 429.56 L468.93 439.37 L475.60 449.19 L482.16 459.00 L488.62 468.81 L494.95 478.62 L501.13 488.44 L507.17 498.25 L513.04 508.06 L518.71 517.88 L524.22 527.69 L529.53 537.50 L534.62 547.31 L539.50 557.12 L544.01 566.94 L548.25 576.75 L552.27 586.56 L556.07 596.37 L559.66 606.19 L563.04 616.00 L566.32 625.81 L569.41 635.62 L572.37 645.44 L575.09 655.25 L577.62 665.06 L579.97 674.88 L582.13 684.69 L584.14 694.50 L585.99 704.31 L587.70 714.12 L589.28 723.94 L590.74 733.75" fill="none" stroke="#f00" stroke-width="1.1" stroke-dasharray="12.7 6.4" />
<path d="M784.60 133.25 L784.60 889.70" fill="none" stroke="#000" stroke-width="0.45" />
<circle cx="784.60" cy="885.32" r="3.7" fill="none" stroke="#000" stroke-width="0.6"/>
<circle cx="784.60" cy="832.24" r="3.7" fill="none" stroke="#000" stroke-width="0.6"/>
<circle cx="784.60" cy="768.83" r="3.7" fill="none" stroke="#000" stroke-width="0.6"/>
<circle cx="784.60" cy="658.93" r="3.7" fill="none" stroke="#000" stroke-width="0.6"/>
<circle cx="784.60" cy="586.05" r="3.7" fill="none" stroke="#000" stroke-width="0.6"/>
<circle cx="784.60" cy="492.09" r="3.7" fill="none" stroke="#000" stroke-width="0.6"/>
<circle cx="784.60" cy="432.55" r="3.7" fill="none" stroke="#000" stroke-width="0.6"/>
<circle cx="784.60" cy="359.67" r="3.7" fill="none" stroke="#000" stroke-width="0.6"/>
<circle cx="784.60" cy="265.71" r="3.7" fill="none" stroke="#000" stroke-width="0.6"/>
<path d="M 780.90 133.25 A 3.7 3.7 0 0 0 788.30 133.25" fill="none" stroke="#000" stroke-width="0.6"/>
<circle cx="784.60" cy="182.75" r="1.9" fill="#000"/>
<circle cx="784.60" cy="260.25" r="1.9" fill="#000"/>
<circle cx="784.60" cy="339.60" r="1.9" fill="#000"/>
<circle cx="784.60" cy="416.60" r="1.9" fill="#000"/>
<circle cx="784.60" cy="492.25" r="1.9" fill="#000"/>
<circle cx="784.60" cy="565.60" r="1.9" fill="#000"/>
<circle cx="784.60" cy="635.25" r="1.9" fill="#000"/>
<circle cx="784.60" cy="662.50" r="1.9" fill="#000"/>
<circle cx="784.60" cy="689.20" r="1.9" fill="#000"/>
<circle cx="784.60" cy="715.60" r="1.9" fill="#000"/>
<circle cx="784.60" cy="741.40" r="1.9" fill="#000"/>
<circle cx="784.60" cy="766.90" r="1.9" fill="#000"/>
<circle cx="784.60" cy="779.60" r="1.9" fill="#000"/>
<circle cx="784.60" cy="792.25" r="1.9" fill="#000"/>
<circle cx="784.60" cy="804.70" r="1.9" fill="#000"/>
<circle cx="784.60" cy="816.90" r="1.9" fill="#000"/>
<circle cx="784.60" cy="829.40" r="1.9" fill="#000"/>
<circle cx="784.60" cy="841.50" r="1.9" fill="#000"/>
<circle cx="784.60" cy="853.75" r="1.9" fill="#000"/>
<circle cx="784.60" cy="865.40" r="1.9" fill="#000"/>
<circle cx="784.60" cy="877.50" r="1.9" fill="#000"/>
<circle cx="784.60" cy="889.50" r="1.9" fill="#000"/>
<path d="M784.60 167.25 L825.60 171.90" fill="none" stroke="#000" stroke-width="0.9" />
<path d="M820.6 171.2 L826.2 171.7 L824.6 180.8 Z" fill="#000" stroke="#000" stroke-width="0.5"/>
<path d="M784.60 225.60 L820.90 225.40" fill="none" stroke="#000" stroke-width="0.6" />
<path d="M806.25 225.48 L812.15 236.73" fill="none" stroke="#000" stroke-width="0.6" />
<path d="M810.00 225.46 L815.90 236.71" fill="none" stroke="#000" stroke-width="0.6" />
<path d="M813.75 225.44 L819.65 236.69" fill="none" stroke="#000" stroke-width="0.6" />
<path d="M817.25 225.42 L823.15 236.67" fill="none" stroke="#000" stroke-width="0.6" />
<path d="M820.90 225.40 L826.80 236.65" fill="none" stroke="#000" stroke-width="0.6" />
<path d="M784.60 283.75 L820.90 286.50" fill="none" stroke="#000" stroke-width="0.6" />
<path d="M813.40 285.93 L818.40 297.18" fill="none" stroke="#000" stroke-width="0.6" />
<path d="M817.10 286.21 L822.10 297.46" fill="none" stroke="#000" stroke-width="0.6" />
<path d="M820.90 286.50 L825.90 297.75" fill="none" stroke="#000" stroke-width="0.6" />
<path d="M784.60 341.00 L820.90 345.60" fill="none" stroke="#000" stroke-width="0.6" />
<path d="M813.40 344.65 L815.65 350.55" fill="none" stroke="#000" stroke-width="0.6" />
<path d="M817.10 345.12 L821.20 356.37" fill="none" stroke="#000" stroke-width="0.6" />
<path d="M820.90 345.60 L825.00 356.85" fill="none" stroke="#000" stroke-width="0.6" />
<path d="M784.60 396.00 L820.90 399.40" fill="none" stroke="#000" stroke-width="0.6" />
<path d="M813.40 398.70 L815.65 404.20" fill="none" stroke="#000" stroke-width="0.6" />
<path d="M817.10 399.04 L821.50 410.04" fill="none" stroke="#000" stroke-width="0.6" />
<path d="M820.90 399.40 L825.30 410.30" fill="none" stroke="#000" stroke-width="0.6" />
<path d="M784.60 449.00 L820.90 453.50" fill="none" stroke="#000" stroke-width="0.6" />
<path d="M813.40 452.57 L815.40 457.97" fill="none" stroke="#000" stroke-width="0.6" />
<path d="M817.10 453.03 L820.85 464.63" fill="none" stroke="#000" stroke-width="0.6" />
<path d="M820.90 453.50 L824.80 464.75" fill="none" stroke="#000" stroke-width="0.6" />
<path d="M784.60 499.75 L819.00 509.00" fill="none" stroke="#000" stroke-width="0.6" />
<path d="M811.90 507.09 L815.00 518.09" fill="none" stroke="#000" stroke-width="0.6" />
<path d="M815.40 508.03 L818.80 519.43" fill="none" stroke="#000" stroke-width="0.6" />
<path d="M819.00 509.00 L822.50 520.60" fill="none" stroke="#000" stroke-width="0.6" />
<path d="M784.60 549.00 L818.75 559.40" fill="none" stroke="#000" stroke-width="0.6" />
<path d="M811.50 557.19 L814.60 568.79" fill="none" stroke="#000" stroke-width="0.6" />
<path d="M815.00 558.26 L818.10 569.86" fill="none" stroke="#000" stroke-width="0.6" />
<path d="M818.75 559.40 L821.85 571.00" fill="none" stroke="#000" stroke-width="0.6" />
<path d="M784.60 596.90 L820.90 602.50" fill="none" stroke="#000" stroke-width="0.6" />
<path d="M813.40 601.34 L815.65 606.74" fill="none" stroke="#000" stroke-width="0.6" />
<path d="M817.10 601.91 L821.20 613.01" fill="none" stroke="#000" stroke-width="0.6" />
<path d="M820.90 602.50 L825.00 613.75" fill="none" stroke="#000" stroke-width="0.6" />
<path d="M784.60 644.40 L820.90 640.25" fill="none" stroke="#000" stroke-width="0.6" />
<path d="M813.40 641.11 L820.30 650.86" fill="none" stroke="#000" stroke-width="0.6" />
<path d="M817.10 640.68 L824.00 650.43" fill="none" stroke="#000" stroke-width="0.6" />
<path d="M820.90 640.25 L827.80 650.00" fill="none" stroke="#000" stroke-width="0.6" />
<path d="M784.60 689.10 L820.00 681.90" fill="none" stroke="#000" stroke-width="0.6" />
<path d="M809.40 684.06 L815.90 693.46" fill="none" stroke="#000" stroke-width="0.6" />
<path d="M813.10 683.30 L819.60 692.70" fill="none" stroke="#000" stroke-width="0.6" />
<path d="M816.50 682.61 L823.00 692.01" fill="none" stroke="#000" stroke-width="0.6" />
<path d="M820.00 681.90 L826.50 691.30" fill="none" stroke="#000" stroke-width="0.6" />
<path d="M784.60 734.10 L820.60 729.20" fill="none" stroke="#000" stroke-width="0.6" />
<path d="M810.10 730.63 L816.70 740.43" fill="none" stroke="#000" stroke-width="0.6" />
<path d="M813.60 730.15 L820.20 739.95" fill="none" stroke="#000" stroke-width="0.6" />
<path d="M817.10 729.68 L823.70 739.48" fill="none" stroke="#000" stroke-width="0.6" />
<path d="M820.60 729.20 L827.20 739.00" fill="none" stroke="#000" stroke-width="0.6" />
<path d="M784.60 766.50 L820.60 765.20" fill="none" stroke="#000" stroke-width="0.6" />
<path d="M814.40 765.42 L819.90 775.62" fill="none" stroke="#000" stroke-width="0.6" />
<path d="M817.50 765.31 L823.30 775.71" fill="none" stroke="#000" stroke-width="0.6" />
<path d="M820.60 765.20 L828.10 777.40" fill="none" stroke="#000" stroke-width="0.6" />
<path d="M784.60 790.00 L817.75 803.40" fill="none" stroke="#000" stroke-width="0.6" />
<path d="M817.75 803.40 L818.85 815.60" fill="none" stroke="#000" stroke-width="0.6" />
<path d="M784.60 829.40 L785.40 853.00" fill="none" stroke="#000" stroke-width="0.9" />
<path d="M787.00 838.00 L787.80 846.50" fill="none" stroke="#000" stroke-width="0.5" />
<path d="M782.00 845.70 L784.00 844.20" fill="none" stroke="#000" stroke-width="0.5" />
<path d="M780.00 864.50 L783.50 862.80" fill="none" stroke="#000" stroke-width="0.5" />
<path d="M784.60 841.50 L785.50 860.00 L793.00 901.00" fill="none" stroke="#000" stroke-width="0.7" />
<path d="M784.60 853.75 L786.75 863.75 L798.00 903.75" fill="none" stroke="#000" stroke-width="0.7" />
<path d="M784.60 865.40 L796.30 903.00" fill="none" stroke="#000" stroke-width="0.6" />
<path d="M784.90 853.75 L795.30 902.50" fill="none" stroke="#000" stroke-width="0.6" />
<path d="M784.60 877.50 L797.50 911.00" fill="none" stroke="#000" stroke-width="0.5" />
<path d="M785.95 862.46 L788.32 861.55" fill="none" stroke="#000" stroke-width="0.55" />
<path d="M786.34 864.59 L788.91 863.63" fill="none" stroke="#000" stroke-width="0.55" />
<path d="M786.73 866.72 L789.50 865.71" fill="none" stroke="#000" stroke-width="0.55" />
<path d="M787.12 868.86 L790.08 867.79" fill="none" stroke="#000" stroke-width="0.55" />
<path d="M787.51 870.99 L790.66 869.87" fill="none" stroke="#000" stroke-width="0.55" />
<path d="M787.90 873.12 L791.25 871.95" fill="none" stroke="#000" stroke-width="0.55" />
<path d="M788.29 875.25 L791.83 874.03" fill="none" stroke="#000" stroke-width="0.55" />
<path d="M788.68 877.38 L792.42 876.11" fill="none" stroke="#000" stroke-width="0.55" />
<path d="M789.07 879.52 L793.00 878.19" fill="none" stroke="#000" stroke-width="0.55" />
<path d="M789.46 881.65 L793.59 880.27" fill="none" stroke="#000" stroke-width="0.55" />
<path d="M789.85 883.78 L794.17 882.35" fill="none" stroke="#000" stroke-width="0.55" />
<path d="M790.24 885.91 L794.76 884.43" fill="none" stroke="#000" stroke-width="0.55" />
<path d="M790.63 888.04 L795.35 886.51" fill="none" stroke="#000" stroke-width="0.55" />
<path d="M791.02 890.18 L795.93 888.59" fill="none" stroke="#000" stroke-width="0.55" />
<path d="M791.41 892.31 L796.51 890.67" fill="none" stroke="#000" stroke-width="0.55" />
<path d="M791.80 894.44 L797.10 892.75" fill="none" stroke="#000" stroke-width="0.55" />
<path d="M792.19 896.57 L797.68 894.83" fill="none" stroke="#000" stroke-width="0.55" />
<path d="M792.58 898.70 L798.27 896.91" fill="none" stroke="#000" stroke-width="0.55" />
<path d="M792.97 900.84 L798.86 898.99" fill="none" stroke="#000" stroke-width="0.55" />
<path d="M792.86 903.77 L800.04 900.77" fill="none" stroke="#000" stroke-width="0.55" />
<path d="M793.25 905.90 L800.62 902.85" fill="none" stroke="#000" stroke-width="0.55" />
<path d="M793.64 908.03 L801.21 904.93" fill="none" stroke="#000" stroke-width="0.55" />
<path d="M794.03 910.16 L801.79 907.01" fill="none" stroke="#000" stroke-width="0.55" />
<path d="M794.42 912.30 L802.38 909.09" fill="none" stroke="#000" stroke-width="0.55" />
<path d="M793.00 913.30 L797.50 906.00" fill="none" stroke="#000" stroke-width="0.5" />
<path d="M797.20 906.50 L799.00 910.50" fill="none" stroke="#000" stroke-width="0.5" />
<path d="M795.80 909.00 L798.50 913.00" fill="none" stroke="#000" stroke-width="0.5" />
<path d="M870.60 132.50 L870.60 901.50" fill="none" stroke="#000" stroke-width="0.9" />
<path d="M870.60 889.60 L881.00 889.60" fill="none" stroke="#000" stroke-width="0.7" />
<text x="893.90" y="889.80" font-size="19.7" text-anchor="start" dominant-baseline="central" fill="#000" >0</text>
<path d="M870.60 850.40 L881.00 850.40" fill="none" stroke="#000" stroke-width="0.7" />
<text x="893.90" y="850.60" font-size="19.7" text-anchor="start" dominant-baseline="central" fill="#000" >1</text>
<path d="M870.60 810.25 L881.00 810.25" fill="none" stroke="#000" stroke-width="0.7" />
<text x="893.90" y="810.45" font-size="19.7" text-anchor="start" dominant-baseline="central" fill="#000" >2</text>
<path d="M870.60 769.40 L881.00 769.40" fill="none" stroke="#000" stroke-width="0.7" />
<text x="893.90" y="769.60" font-size="19.7" text-anchor="start" dominant-baseline="central" fill="#000" >3</text>
<path d="M870.60 727.10 L881.00 727.10" fill="none" stroke="#000" stroke-width="0.7" />
<text x="893.90" y="727.30" font-size="19.7" text-anchor="start" dominant-baseline="central" fill="#000" >4</text>
<path d="M870.60 683.75 L881.00 683.75" fill="none" stroke="#000" stroke-width="0.7" />
<text x="893.90" y="683.95" font-size="19.7" text-anchor="start" dominant-baseline="central" fill="#000" >5</text>
<path d="M870.60 639.40 L881.00 639.40" fill="none" stroke="#000" stroke-width="0.7" />
<text x="893.90" y="639.60" font-size="19.7" text-anchor="start" dominant-baseline="central" fill="#000" >6</text>
<path d="M870.60 594.40 L881.00 594.40" fill="none" stroke="#000" stroke-width="0.7" />
<text x="893.90" y="594.60" font-size="19.7" text-anchor="start" dominant-baseline="central" fill="#000" >7</text>
<path d="M870.60 547.50 L881.00 547.50" fill="none" stroke="#000" stroke-width="0.7" />
<text x="893.90" y="547.70" font-size="19.7" text-anchor="start" dominant-baseline="central" fill="#000" >8</text>
<path d="M870.60 499.40 L881.00 499.40" fill="none" stroke="#000" stroke-width="0.7" />
<text x="893.90" y="499.60" font-size="19.7" text-anchor="start" dominant-baseline="central" fill="#000" >9</text>
<path d="M870.60 450.25 L881.00 450.25" fill="none" stroke="#000" stroke-width="0.7" />
<text x="893.90" y="450.45" font-size="19.7" text-anchor="start" dominant-baseline="central" fill="#000" >10</text>
<path d="M870.60 399.60 L881.00 399.60" fill="none" stroke="#000" stroke-width="0.7" />
<text x="893.90" y="399.80" font-size="19.7" text-anchor="start" dominant-baseline="central" fill="#000" >11</text>
<path d="M870.60 349.40 L881.00 349.40" fill="none" stroke="#000" stroke-width="0.7" />
<text x="893.90" y="349.60" font-size="19.7" text-anchor="start" dominant-baseline="central" fill="#000" >12</text>
<path d="M870.60 297.25 L881.00 297.25" fill="none" stroke="#000" stroke-width="0.7" />
<text x="893.90" y="297.45" font-size="19.7" text-anchor="start" dominant-baseline="central" fill="#000" >13</text>
<path d="M870.60 246.50 L881.00 246.50" fill="none" stroke="#000" stroke-width="0.7" />
<text x="893.90" y="246.70" font-size="19.7" text-anchor="start" dominant-baseline="central" fill="#000" >14</text>
<path d="M870.60 194.75 L881.00 194.75" fill="none" stroke="#000" stroke-width="0.7" />
<text x="893.90" y="194.95" font-size="19.7" text-anchor="start" dominant-baseline="central" fill="#000" >15</text>
<path d="M870.60 143.40 L881.00 143.40" fill="none" stroke="#000" stroke-width="0.7" />
<text x="893.90" y="143.60" font-size="19.7" text-anchor="start" dominant-baseline="central" fill="#000" >16</text>
<text x="855.30" y="542.30" font-size="19.8" text-anchor="middle" dominant-baseline="central" fill="#000" transform="rotate(90.0 855.30 542.30)" >Height (Km)</text>
<path d="M133.23 901.25 L133.23 911.60" fill="none" stroke="#000" stroke-width="0.8" />
<text x="133.23" y="940.00" font-size="20.6" text-anchor="middle" dominant-baseline="alphabetic" fill="#000" >-30</text>
<path d="M218.86 901.25 L218.86 911.60" fill="none" stroke="#000" stroke-width="0.8" />
<text x="218.86" y="940.00" font-size="20.6" text-anchor="middle" dominant-baseline="alphabetic" fill="#000" >-20</text>
<path d="M304.48 901.25 L304.48 911.60" fill="none" stroke="#000" stroke-width="0.8" />
<text x="304.48" y="940.00" font-size="20.6" text-anchor="middle" dominant-baseline="alphabetic" fill="#000" >-10</text>
<path d="M390.10 901.25 L390.10 911.60" fill="none" stroke="#000" stroke-width="0.8" />
<text x="390.10" y="940.00" font-size="20.6" text-anchor="middle" dominant-baseline="alphabetic" fill="#000" >0</text>
<path d="M475.72 901.25 L475.72 911.60" fill="none" stroke="#000" stroke-width="0.8" />
<text x="475.72" y="940.00" font-size="20.6" text-anchor="middle" dominant-baseline="alphabetic" fill="#000" >10</text>
<path d="M561.34 901.25 L561.34 911.60" fill="none" stroke="#000" stroke-width="0.8" />
<text x="561.34" y="940.00" font-size="20.6" text-anchor="middle" dominant-baseline="alphabetic" fill="#000" >20</text>
<path d="M646.97 901.25 L646.97 911.60" fill="none" stroke="#000" stroke-width="0.8" />
<text x="646.97" y="940.00" font-size="20.6" text-anchor="middle" dominant-baseline="alphabetic" fill="#000" >30</text>
<path d="M732.59 901.25 L732.59 911.60" fill="none" stroke="#000" stroke-width="0.8" />
<text x="732.59" y="940.00" font-size="20.6" text-anchor="middle" dominant-baseline="alphabetic" fill="#000" >40</text>
<text x="486.60" y="963.50" font-size="17.9" text-anchor="middle" dominant-baseline="alphabetic" fill="#000" >Temperature (C)</text>
<text x="53.10" y="537.60" font-size="17.7" text-anchor="middle" dominant-baseline="alphabetic" fill="#000" transform="rotate(-90.0 53.10 537.60)" >P (hPa)</text>
<text x="384.40" y="108.20" font-size="21.2" text-anchor="middle" dominant-baseline="alphabetic" fill="#000" >TILLABERY at 2018-07-29_15:00:00</text>
<text x="385.00" y="128.00" font-size="10.6" text-anchor="middle" dominant-baseline="alphabetic" fill="#a0522d" >Plcl=744 Tlcl[C]=12 Shox=-1 Pwat[cm]=4 Cape[J]= 1090</text>
</g>
</svg>
</body></html>
